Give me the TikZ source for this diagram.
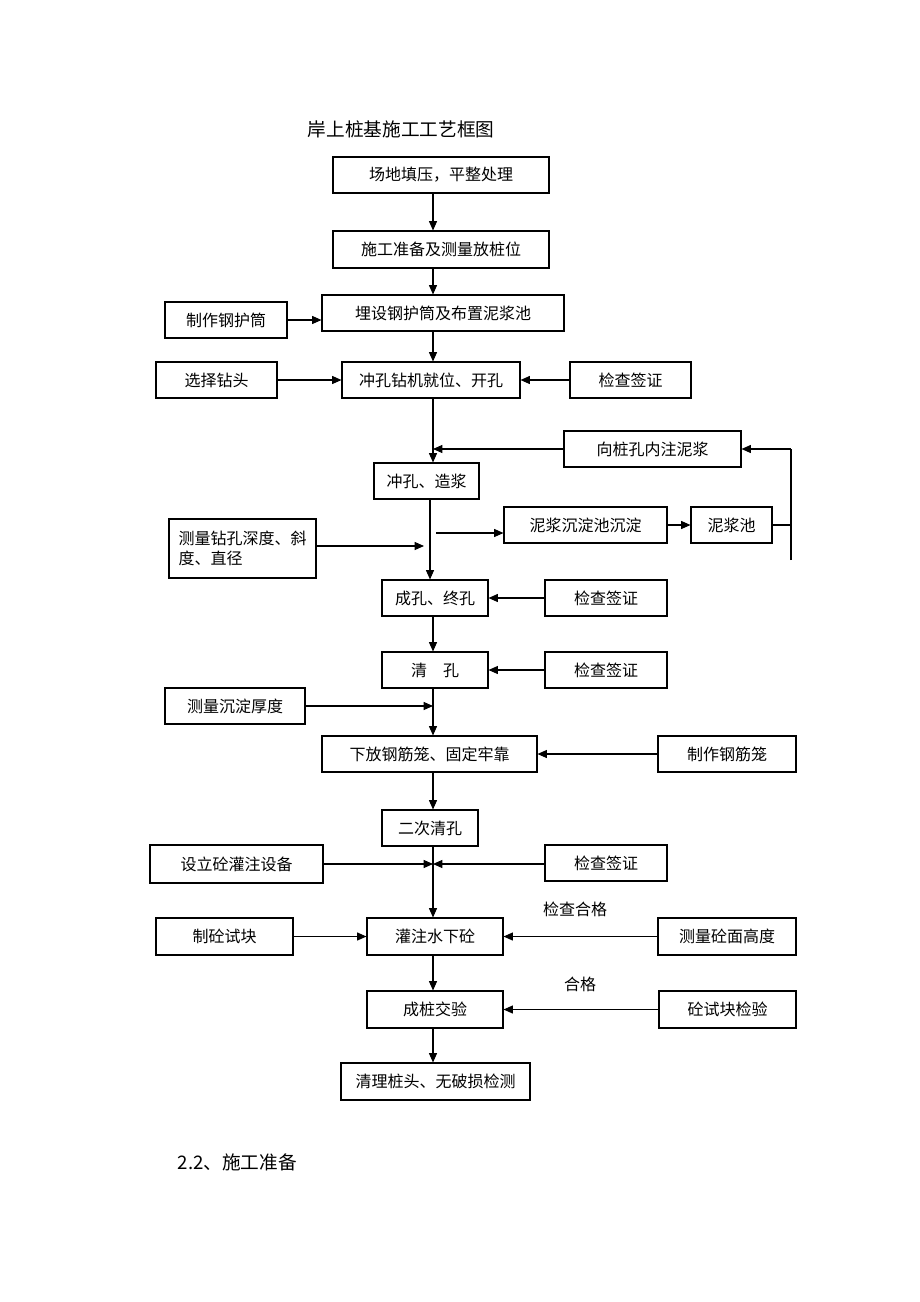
\documentclass[tikz,border=0pt]{standalone}
\usepackage{fontspec}
\setmainfont{Noto Sans CJK SC}
\usetikzlibrary{arrows.meta}
\tikzset{
  box/.style 2 args={draw, line width=0.8pt, minimum width=#1*0.75pt, minimum height=#2*0.75pt,
    inner sep=0pt, font=\fontsize{12pt}{15pt}\selectfont},
  link/.style={line width=0.8pt},
  flow/.style={line width=0.8pt, -{Triangle[length=7pt,width=6pt]}},
  note/.style={font=\fontsize{12pt}{15pt}\selectfont},
}
\begin{document}
\begin{tikzpicture}[x=0.75pt, y=-0.75pt]
  \fill[white] (0,0) rectangle (920,1302);
  \useasboundingbox (0,0) rectangle (920,1302);

  \coordinate (sp) at (433,0);
  \coordinate (sq) at (430,0);

  \node[font=\fontsize{14pt}{17pt}\selectfont] (title) at (401,129) {岸上桩基施工工艺框图};

  \node[box={216}{36}] (b1) at (441,175) {场地填压，平整处理};
  \node[box={216}{37}] (b2) at (441,249.5) {施工准备及测量放桩位};
  \node[box={242}{36}] (b3) at (443,313) {埋设钢护筒及布置泥浆池};
  \node[box={122}{36}] (hutong) at (226,320) {制作钢护筒};
  \node[box={178}{36}] (b4) at (431,380) {冲孔钻机就位、开孔};
  \node[box={121}{36}] (zuantou) at (216.5,380) {选择钻头};
  \node[box={121}{36}] (jc1) at (630.5,380) {检查签证};

  \node[box={177}{36}] (zhujiang) at (652.5,449) {向桩孔内注泥浆};
  \node[box={105}{36}] (zaojiang) at (426.5,481) {冲孔、造浆};
  \node[box={163}{36}] (chendian) at (585.5,525) {泥浆沉淀池沉淀};
  \node[box={81}{36}] (chi) at (731.5,525) {泥浆池};
  \node[box={147}{59}, align=left] (zuankong) at (242.5,548.5) {测量钻孔深度、斜\\度、直径};

  \node[box={106}{36}] (zhongkong) at (435,598) {成孔、终孔};
  \node[box={122}{36}] (jc2) at (606,598) {检查签证};
  \node[box={106}{36}] (qingkong) at (435,670) {清　孔};
  \node[box={122}{36}] (jc3) at (606,670) {检查签证};
  \node[box={140}{36}] (houdu) at (235,706) {测量沉淀厚度};
  \node[box={215}{36}] (xiafang) at (429.5,754) {下放钢筋笼、固定牢靠};
  \node[box={138}{36}] (gangjin) at (727,754) {制作钢筋笼};
  \node[box={96}{36}] (erci) at (430,828) {二次清孔};
  \node[box={173}{38}] (shebei) at (236.5,864) {设立砼灌注设备};
  \node[box={122}{36}] (jc4) at (606,863) {检查签证};

  \node[note] (hege1) at (575,909) {检查合格};
  \node[box={137}{37}] (shikuai) at (224.5,936.5) {制砼试块};
  \node[box={136}{37}] (guanzhu) at (435,936.5) {灌注水下砼};
  \node[box={138}{37}] (gaodu) at (727,936.5) {测量砼面高度};
  \node[note] (hege2) at (580,984) {合格};
  \node[box={136}{37}] (jiaoyan) at (435,1009.5) {成桩交验};
  \node[box={137}{37}] (jianyan) at (727.5,1009.5) {砼试块检验};
  \node[box={189}{37}] (qingli) at (435.5,1081.5) {清理桩头、无破损检测};

  \node[font=\fontsize{14pt}{17pt}\selectfont, anchor=west] (sec) at (173,1162) {2.2、施工准备};

  % main line
  \draw[flow] (b1.south -| sp) -- (b2.north -| sp);
  \draw[flow] (b2.south -| sp) -- (b3.north -| sp);
  \draw[flow] (b3.south -| sp) -- (b4.north -| sp);
  \draw[flow] (hutong.east) -- (hutong.east -| b3.west);
  \draw[flow] (zuantou) -- (b4);
  \draw[flow] (jc1) -- (b4);
  \draw[flow] (b4.south -| sp) -- (zaojiang.north -| sp);
  \draw[flow] (zhujiang.west) -- (zhujiang.west -| sp);

  % mud circuit
  \coordinate (m1) at (436,533);
  \coordinate (m2) at (424,546);
  \coordinate (r1) at (791,449);
  \coordinate (r2) at (791,560);
  \draw[flow] (zaojiang.south -| sq) -- (zhongkong.north -| sq);
  \draw[flow] (m1) -- (m1 -| chendian.west);
  \draw[flow] (zuankong.east |- m2) -- (m2);
  \draw[flow] (chendian) -- (chi);
  \draw[link] (chi.east) -- (chi.east -| r1);
  \draw[link] (r2) -- (r1);
  \draw[flow] (r1) -- (zhujiang.east);

  \draw[flow] (jc2) -- (zhongkong);
  \draw[flow] (zhongkong.south -| sp) -- (qingkong.north -| sp);
  \draw[flow] (jc3) -- (qingkong);
  \draw[flow] (qingkong.south -| sp) -- (xiafang.north -| sp);
  \draw[flow] (houdu.east) -- (houdu.east -| sp);
  \draw[flow] (gangjin) -- (xiafang);
  \draw[flow] (xiafang.south -| sp) -- (erci.north -| sp);
  \draw[flow] (erci.south -| sp) -- (guanzhu.north -| sp);
  \draw[flow] (shebei.east) -- (shebei.east -| sp);
  \draw[flow] (jc4.west |- shebei.east) -- (shebei.east -| sp);
  \draw[flow] (shikuai) -- (guanzhu);
  \draw[flow] (gaodu) -- (guanzhu);
  \draw[flow] (guanzhu.south -| sp) -- (jiaoyan.north -| sp);
  \draw[flow] (jianyan) -- (jiaoyan);
  \draw[flow] (jiaoyan.south -| sp) -- (qingli.north -| sp);
\end{tikzpicture}
\end{document}
